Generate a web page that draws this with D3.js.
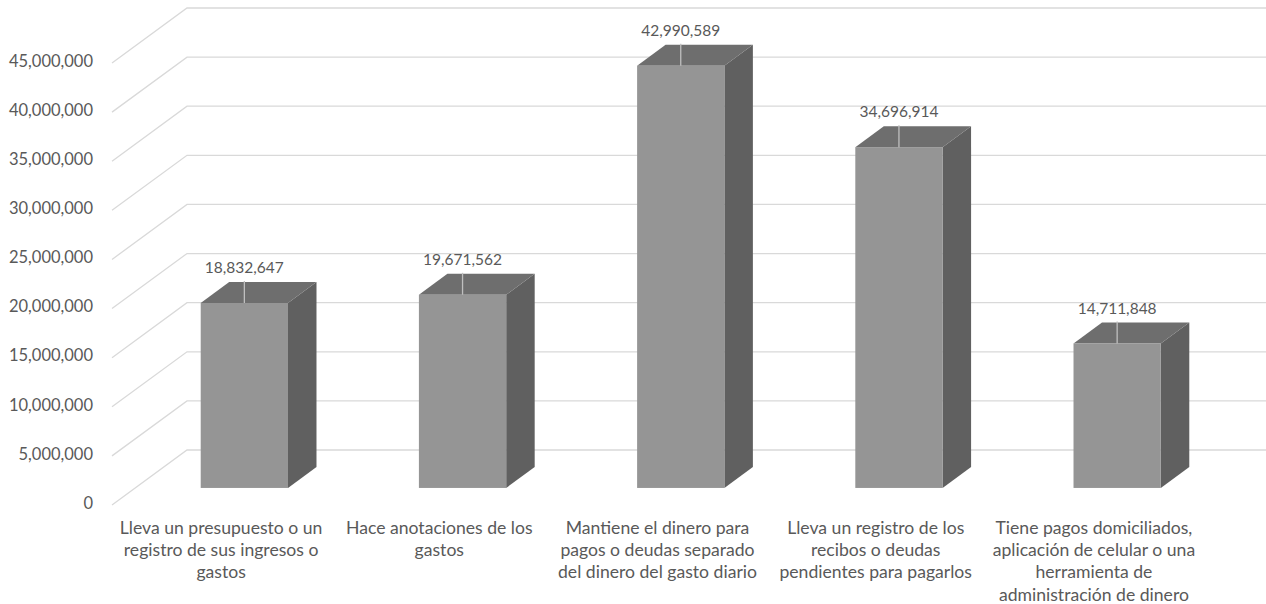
<!DOCTYPE html>
<html>
<head>
<meta charset="utf-8">
<script src="https://cdn.jsdelivr.net/npm/d3@7"></script>
<style>
  html, body { margin: 0; padding: 0; background: #ffffff; }
  svg { display: block; }
  text { font-family: Lato, "Noto Sans", sans-serif; fill: #595959; }
</style>
</head>
<body>
<div id="chart"></div>
<script>
// ---- data ----
const categories = [
  "Lleva un presupuesto o un\nregistro de sus ingresos o\ngastos",
  "Hace anotaciones de los\ngastos",
  "Mantiene el dinero para\npagos o deudas separado\ndel dinero del gasto diario",
  "Lleva un registro de los\nrecibos o deudas\npendientes para pagarlos",
  "Tiene pagos domiciliados,\naplicación de celular o una\nherramienta de\nadministración de dinero"
];
const values = [18832647, 19671562, 42990589, 34696914, 14711848];
const yTicks = [0, 5000000, 10000000, 15000000, 20000000, 25000000, 30000000, 35000000, 40000000, 45000000];

// ---- layout ----
const W = 1266, H = 604;
const depth = { dx: 75, dy: -55 };       // full floor depth offset
const barDepth = { start: 0.31, end: 0.69 };
const fmt = d3.format(",");

const svg = d3.select("#chart").append("svg").attr("width", W).attr("height", H);

const x = d3.scaleBand().domain(d3.range(categories.length)).range([112, 1203]).padding(0);
const y = d3.scaleLinear().domain([0, 45000000]).range([505, 63]);

// gridlines (side wall slant + back wall horizontal)
const grid = svg.append("g");
yTicks.forEach(t => {
  const yf = y(t);
  grid.append("path")
    .attr("d", `M${x.range()[0]},${yf} L${x.range()[0] + depth.dx},${yf + depth.dy} L${W + 5},${yf + depth.dy}`)
    .attr("fill", "none").attr("stroke", "#d9d9d9").attr("stroke-width", 1.3);
});

// y axis labels
svg.append("g").selectAll("text").data(yTicks).join("text")
  .attr("x", 93).attr("y", d => y(d) - 2).attr("dy", "0.35em")
  .attr("text-anchor", "end").style("font-size", "16.5px")
  .text(d => fmt(d));

// bars
const bw = x.bandwidth() * 0.4;
const d0 = { dx: depth.dx * barDepth.start, dy: depth.dy * barDepth.start };
const dd = { dx: depth.dx * (barDepth.end - barDepth.start), dy: depth.dy * (barDepth.end - barDepth.start) };

const bars = svg.append("g").selectAll("g").data(values).join("g");
bars.each(function (v, i) {
  const g = d3.select(this);
  const cx = x(i) + x.bandwidth() / 2 + d0.dx;
  const xl = cx - bw / 2, xr = cx + bw / 2;
  const yb = y(0) + d0.dy, yt = y(v) + d0.dy;
  // side face
  g.append("path")
    .attr("d", `M${xr},${yb} L${xr + dd.dx},${yb + dd.dy} L${xr + dd.dx},${yt + dd.dy} L${xr},${yt} Z`)
    .attr("fill", "#606060");
  // top face
  g.append("path")
    .attr("d", `M${xl},${yt} L${xl + dd.dx},${yt + dd.dy} L${xr + dd.dx},${yt + dd.dy} L${xr},${yt} Z`)
    .attr("fill", "#6e6e6e");
  // front face
  g.append("rect").attr("x", xl).attr("y", yt).attr("width", bw).attr("height", yb - yt)
    .attr("fill", "#959595");
  // leader line
  g.append("line").attr("x1", cx).attr("x2", cx).attr("y1", yt + dd.dy - 1).attr("y2", yt)
    .attr("stroke", "#bfbfbf").attr("stroke-width", 1.3);
  // value label
  g.append("text").attr("x", cx).attr("y", yt + dd.dy - 9)
    .attr("text-anchor", "middle").style("font-size", "15.5px")
    .text(fmt(v));
});

// category labels
const catG = svg.append("g").selectAll("text").data(categories).join("text")
  .attr("text-anchor", "middle").style("font-size", "17.6px")
  .attr("transform", (d, i) => `translate(${x(i) + x.bandwidth() / 2},527.5)`);
catG.each(function (d) {
  const t = d3.select(this);
  d.split("\n").forEach((line, k) => {
    t.append("tspan").attr("x", 0).attr("y", k * 22.3).attr("dy", "0.35em").text(line);
  });
});
</script>
</body>
</html>
